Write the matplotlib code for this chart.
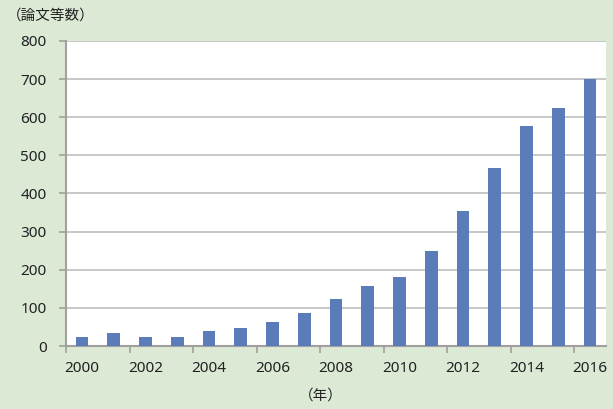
import matplotlib.pyplot as plt
import numpy as np

years = [2000, 2001, 2002, 2003, 2004, 2005, 2006, 2007, 2008,
         2009, 2010, 2011, 2012, 2013, 2014, 2015, 2016]
papers = [24, 33, 24, 23, 40, 47, 63, 87, 122,
          157, 181, 248, 353, 468, 577, 625, 700]
yticks = [0, 100, 200, 300, 400, 500, 600, 700, 800]

plt.rcParams['font.family'] = ['Noto Sans', 'Noto Sans CJK JP', 'DejaVu Sans']

bg = '#dce9d5'
fig = plt.figure(figsize=(6.13, 4.09), dpi=100, facecolor=bg)
ax = fig.add_axes([0.1077, 0.154, 0.8809, 0.7458])
ax.set_facecolor('white')

x = np.arange(len(years))
ax.bar(x, papers, width=0.4, color='#5b7cb9', zorder=3)

ax.set_xlim(-0.5, len(years) - 0.5)
ax.set_ylim(0, 800)
ax.set_yticks(yticks)
ax.set_yticklabels([str(v) for v in yticks])
ax.yaxis.grid(True, color='#bdbdbd', linewidth=1.2, zorder=0)

# labels every other year, tick marks at category boundaries
ax.set_xticks(x[::2])
ax.set_xticklabels([str(y) for y in years[::2]])
ax.set_xticks(np.arange(-0.5, len(years) - 1, 2), minor=True)
ax.tick_params(axis='x', which='major', length=0, pad=11)
ax.tick_params(axis='x', which='minor', length=5, color='#a0a0a0', width=1.2)
ax.tick_params(axis='y', length=5, color='#a0a0a0', width=1.2, pad=9)
ax.tick_params(labelsize=11, labelcolor='#222222')

for s in ['top', 'right']:
    ax.spines[s].set_visible(False)
for s in ['left', 'bottom']:
    ax.spines[s].set_color('#a0a0a0')
    ax.spines[s].set_linewidth(1.5)

fig.text(0.012, 0.963, '（論文等数）', fontsize=10.5, color='#222222',
         family=['Noto Sans CJK JP', 'DejaVu Sans'], va='center', ha='left')
fig.text(0.523, 0.033, '（年）', fontsize=10.5, color='#222222',
         family=['Noto Sans CJK JP', 'DejaVu Sans'], va='center', ha='center')

fig.savefig('out.png', dpi=100, facecolor=bg)
